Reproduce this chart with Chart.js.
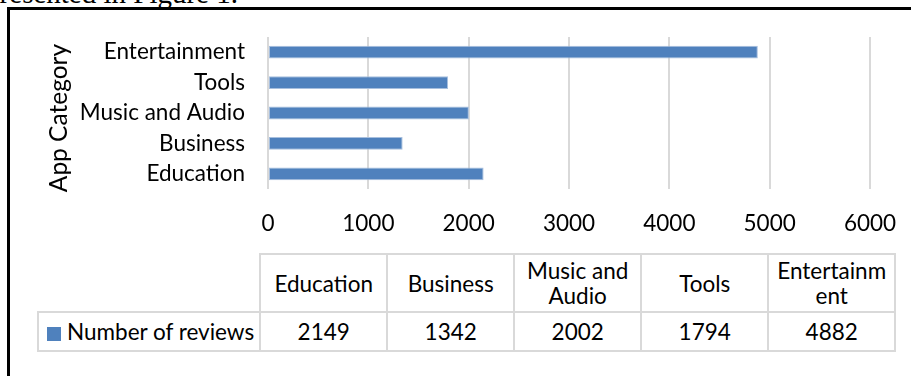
<!DOCTYPE html>
<html>
<head>
<meta charset="utf-8">
<script src="https://cdn.jsdelivr.net/npm/chart.js@4.4.0/dist/chart.umd.min.js"></script>
<style>
html, body { margin: 0; padding: 0; background: #fff; }
#wrap { position: relative; width: 911px; height: 376px; overflow: hidden; background: #fff; font-family: Lato, sans-serif; }
#frame { position: absolute; left: 7px; top: 7px; width: 960px; height: 420px; border-left: 3px solid #000; border-top: 3px solid #000; }
#caption { position: absolute; left: -300px; width: 538px; top: -21px; font: 29px/29px "Liberation Serif", serif; text-align: right; white-space: nowrap; color: #000; }
canvas { position: absolute; left: 0; top: 0; }
#tbl { position: absolute; left: 37px; top: 253px; border-collapse: collapse; table-layout: fixed; font-size: 22.5px; color: #000; }
#tbl td { border: 2px solid #d9d9d9; text-align: center; padding: 0 5px; line-height: 25px; overflow-wrap: anywhere; }
#tbl tr.head td { height: 56px; }
#tbl tr.vals td { height: 37px; }
#tbl td.blank { border: none; }
#tbl td.legend { text-align: left; padding-left: 8px; white-space: nowrap; }
.swatch { display: inline-block; width: 14px; height: 14px; background: #4f81bd; margin-right: 6px; vertical-align: -1px; }
</style>
</head>
<body>
<div id="wrap">
  <div id="caption">presented in Figure 1.</div>
  <div id="frame"></div>
  <canvas id="reviewsChart" width="911" height="250"></canvas>
  <table id="tbl">
    <colgroup><col style="width:221px"></colgroup>
    <tbody></tbody>
  </table>
</div>
<script>
// chart data
const categories = ['Education', 'Business', 'Music and Audio', 'Tools', 'Entertainment'];
const reviews = [2149, 1342, 2002, 1794, 4882];
const xTicks = [0, 1000, 2000, 3000, 4000, 5000, 6000];
const seriesName = 'Number of reviews';
const axisTitle = 'App Category';

const barColor = '#4f81bd';
const fontFamily = 'Lato, sans-serif';

// data table under the chart
function buildTable() {
    const tbl = document.getElementById('tbl');
    const cg = tbl.querySelector('colgroup');
    categories.forEach(() => {
        const c = document.createElement('col');
        c.style.width = '127px';
        cg.appendChild(c);
    });
    const body = tbl.querySelector('tbody');
    const head = document.createElement('tr');
    head.className = 'head';
    const blank = document.createElement('td');
    blank.className = 'blank';
    head.appendChild(blank);
    categories.forEach(name => {
        const td = document.createElement('td');
        td.textContent = name;
        head.appendChild(td);
    });
    body.appendChild(head);

    const vals = document.createElement('tr');
    vals.className = 'vals';
    const leg = document.createElement('td');
    leg.className = 'legend';
    leg.innerHTML = '<span class="swatch"></span>';
    leg.appendChild(document.createTextNode(seriesName));
    vals.appendChild(leg);
    reviews.forEach(v => {
        const td = document.createElement('td');
        td.textContent = v;
        vals.appendChild(td);
    });
    body.appendChild(vals);
}

// rotated y axis title
const axisTitlePlugin = {
    id: 'axisTitle',
    afterDraw(chart) {
        const ctx = chart.ctx;
        ctx.save();
        ctx.translate(67, 118);
        ctx.rotate(-Math.PI / 2);
        ctx.font = '24.5px ' + fontFamily;
        ctx.fillStyle = '#000';
        ctx.textAlign = 'center';
        ctx.textBaseline = 'alphabetic';
        ctx.fillText(axisTitle, 0, 0);
        ctx.restore();
    }
};

function initChart() {
    const ctx = document.getElementById('reviewsChart').getContext('2d');
    const reviewsChart = new Chart(ctx, {
        type: 'bar',
        data: {
            labels: categories,
            datasets: [{
                label: seriesName,
                data: reviews,
                backgroundColor: barColor,
                borderColor: 'rgba(167, 191, 222, 1)',
                borderWidth: 1,
                borderSkipped: false,
                barPercentage: 0.42,
                categoryPercentage: 1
            }]
        },
        options: {
            indexAxis: 'y',
            responsive: false,
            animation: false,
            devicePixelRatio: 1,
            layout: {
                padding: { top: 37, right: 41, left: 0, bottom: 0 }
            },
            plugins: {
                legend: { display: false },
                tooltip: { enabled: false }
            },
            scales: {
                x: {
                    min: 0,
                    max: 6000,
                    afterBuildTicks: s => { s.ticks = xTicks.map(v => ({ value: v })); },
                    afterFit: s => {
                        s.height = 61;
                        // keep the plot edge fixed, labels may overhang
                        s.paddingLeft = 0;
                        s.paddingRight = 0;
                    },
                    grid: { color: '#d9d9d9', lineWidth: 2, drawTicks: false },
                    border: { display: false },
                    ticks: {
                        padding: 21,
                        color: '#000',
                        font: { family: fontFamily, size: 22.5 },
                        maxRotation: 0,
                        callback: v => String(v)
                    }
                },
                y: {
                    reverse: true,
                    afterFit: s => { s.width = 268; },
                    grid: { display: false, drawTicks: false },
                    border: { display: false },
                    ticks: {
                        padding: 23,
                        color: '#000',
                        font: { family: fontFamily, size: 22.5 }
                    }
                }
            }
        },
        plugins: [axisTitlePlugin]
    });
}

buildTable();
initChart();
</script>
</body>
</html>
